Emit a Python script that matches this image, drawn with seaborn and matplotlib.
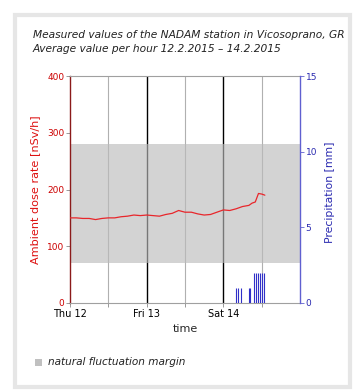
import matplotlib
matplotlib.use("Agg")
import matplotlib.pyplot as plt
import seaborn as sns
import pandas as pd
from matplotlib.patches import Rectangle

# ---- data ----
dose_hours = [0, 2, 4, 6, 8, 10, 12, 14, 16, 18, 20, 22, 24, 26, 28, 30, 32, 34,
              36, 38, 40, 42, 44, 46, 48, 50, 52, 54, 56, 57, 58, 59, 60, 61]
dose_values = [150, 150, 149, 149, 147, 149, 150, 150, 152, 153, 155, 154, 155, 154,
               153, 156, 158, 163, 160, 160, 157, 155, 156, 160, 164, 163, 166, 170,
               172, 176, 178, 193, 192, 190]
precip_hours = [52.0, 52.7, 53.4, 55.9, 56.5, 57.7, 58.3, 58.9, 59.5, 60.1, 60.7]
precip_values = [1, 1, 1, 1, 1, 2, 2, 2, 2, 2, 2]
band_low, band_high = 70, 280
day_ticks = [0, 24, 48]
day_labels = ["Thu 12", "Fri 13", "Sat 14"]
half_ticks = [12, 36, 60]
left_ticks = [0, 100, 200, 300, 400]
right_ticks = [0, 5, 10, 15]

W, H = 358, 392
sns.set_style("white")
plt.rcParams['font.family'] = ['DejaVu Sans']
fig = plt.figure(figsize=(W / 100, H / 100), dpi=100)

# outer frame
frame = Rectangle((15 / W, 1 - 387 / H), 335 / W, 372 / H,
                  transform=fig.transFigure, facecolor='white',
                  edgecolor='#e6e6e6', linewidth=3, zorder=-10)
fig.patches.append(frame)

ax = fig.add_axes([70 / W, 1 - 303 / H, 230 / W, 227 / H])
ax.set_xlim(0, 72)
ax.set_ylim(0, 400)
ax.patch.set_alpha(0)

# vertical grid lines
for t in day_ticks[1:]:
    ax.axvline(t, color='black', lw=1.0, zorder=1)
for t in half_ticks:
    ax.axvline(t, color='#b0b0b0', lw=0.8, zorder=1)

ax.axhspan(band_low, band_high, color='#bbbbbb', alpha=0.64, lw=0, zorder=2)

df = pd.DataFrame({"h": dose_hours, "v": dose_values})
sns.lineplot(data=df, x="h", y="v", ax=ax, color='#e8262b', lw=0.9, zorder=4)

ax.set_xticks(day_ticks)
ax.set_xticklabels(day_labels, fontsize=7, color='black')
ax.set_xticks(half_ticks, minor=True)
ax.set_yticks(left_ticks)
ax.set_yticklabels([str(v) for v in left_ticks], fontsize=6.5, color='#cc0000')
ax.tick_params(axis='x', which='both', length=3, width=0.6, color='#888888', pad=1, bottom=True)
ax.tick_params(axis='y', length=3, width=0.6, color='#888888', pad=1, left=True)
ax.set_xlabel("")
ax.set_ylabel("")
for s in ['top', 'bottom']:
    ax.spines[s].set_color('#a0a0a0')
    ax.spines[s].set_linewidth(0.8)
ax.spines['left'].set_color('#8b1a1a')
ax.spines['left'].set_linewidth(1.0)
ax.spines['right'].set_visible(False)

ax2 = ax.twinx()
ax2.set_ylim(0, 15)
ax2.vlines(precip_hours, 0, precip_values, colors='#3030c8', linewidth=0.8, zorder=5)
ax2.set_yticks(right_ticks)
ax2.set_yticklabels([str(v) for v in right_ticks], fontsize=6.5, color='#2a2ab0')
ax2.tick_params(axis='y', length=3, width=0.6, color='#6060d0', pad=1, right=True)
for s in ['top', 'bottom', 'left']:
    ax2.spines[s].set_visible(False)
ax2.spines['right'].set_visible(True)
ax2.spines['right'].set_color('#6060d0')
ax2.spines['right'].set_linewidth(1.0)
ax2.grid(False)

# texts
fig.text(33 / W, 1 - 35 / H, "Measured values of the NADAM station in Vicosoprano, GR",
         fontsize=7.7, style='italic', va='center', ha='left', color='#222222')
fig.text(33 / W, 1 - 49 / H, "Average value per hour 12.2.2015 – 14.2.2015",
         fontsize=7.7, style='italic', va='center', ha='left', color='#222222')
fig.text(35 / W, 1 - 190 / H, "Ambient dose rate [nSv/h]", rotation=90,
         fontsize=8.1, color='#dd1111', ha='center', va='center')
fig.text(330 / W, 1 - 192 / H, "Precipitation [mm]", rotation=90,
         fontsize=7.8, color='#2a2ab0', ha='center', va='center')
fig.text(185 / W, 1 - 329 / H, "time", fontsize=8, ha='center', va='center')
fig.patches.append(Rectangle((35 / W, 1 - 366 / H), 7 / W, 7 / H,
                             transform=fig.transFigure, facecolor='#c0c0c0',
                             edgecolor='none'))
fig.text(48 / W, 1 - 362 / H, "natural fluctuation margin", fontsize=7.6,
         style='italic', ha='left', va='center', color='#222222')

fig.savefig("out.png", dpi=100)
